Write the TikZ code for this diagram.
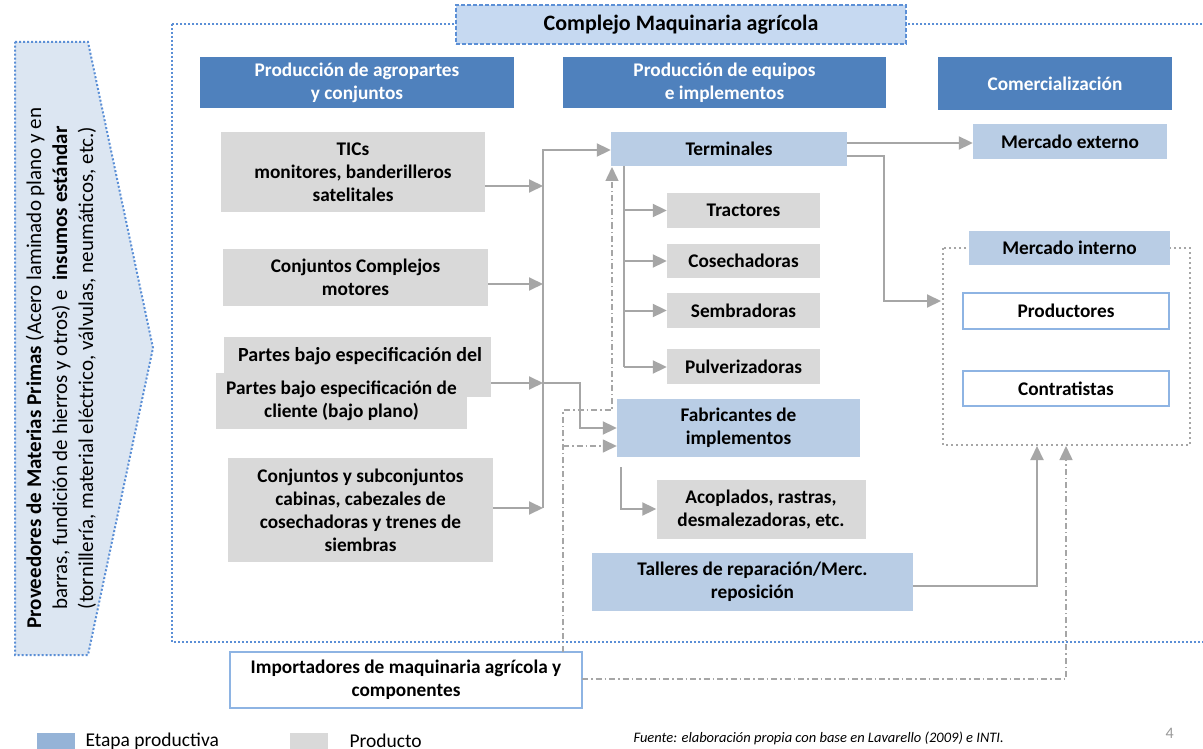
\documentclass[tikz,border=0pt]{standalone}
\usepackage{fontspec}
\setmainfont{Carlito}
\usetikzlibrary{arrows.meta,calc}
\definecolor{hdr}{HTML}{4F81BD}
\definecolor{stage}{HTML}{B9CDE5}
\definecolor{prodc}{HTML}{D9D9D9}
\definecolor{connc}{HTML}{A6A6A6}
\definecolor{dotblue}{HTML}{5B8FD6}
\definecolor{titlefill}{HTML}{C6D9F1}
\definecolor{leftfill}{HTML}{DCE6F2}
\definecolor{wborder}{HTML}{8EB4E3}
\definecolor{legblue}{HTML}{95B3D7}
\begin{document}
\begin{tikzpicture}[x=1pt,y=-1pt,
 base/.style={inner sep=2pt, align=center, font=\fontsize{19.3}{23}\selectfont\bfseries, text=black},
 header/.style={base, fill=hdr, text=white},
 stagebox/.style={base, fill=stage},
 prodbox/.style={base, fill=prodc},
 whitebox/.style={base, fill=white, draw=wborder, line width=1.5pt},
 conn/.style={draw=connc, line width=2pt},
 arr/.style={conn, -{Triangle[length=14pt,width=13pt]}},
 ddot/.style={draw=connc, line width=1.5pt, dash pattern=on 6pt off 3pt on 1.5pt off 3pt},
 darr/.style={ddot, -{Triangle[length=14pt,width=13pt]}},
]
\useasboundingbox (0,0) rectangle (1203,749);
\fill[white] (0,0) rectangle (1203,749);

% outer dotted frame
\draw[dotblue, line width=2pt, dash pattern=on 2pt off 2pt] (172,24) rectangle (1215,642);
\node[base, font=\fontsize{22}{26}\selectfont\bfseries, fill=titlefill, draw=dotblue, line width=1.5pt, dash pattern=on 4pt off 2pt,
  minimum width=450, minimum height=39] (title) at (681,24.5) {Complejo Maquinaria agrícola};

% left supplier arrow
\draw[fill=leftfill, draw=dotblue, line width=2pt, dash pattern=on 2pt off 2pt]
  (15,42) -- (88,42) -- (153,348) -- (88,655) -- (15,655) -- cycle;
\node[rotate=90, align=center, font=\fontsize{21}{26}\selectfont] (prov) at (61,368)
  {\textbf{Proveedores de Materias Primas} (Acero laminado plano y en\\
   barras, fundición de hierros y otros) e \textbf{ insumos estándar}\\
   (tornillería, material eléctrico, válvulas, neumáticos, etc.)};

% headers
\node[header, minimum width=314, minimum height=51] (h1) at (357,82.5) {Producción de agropartes\\y conjuntos};
\node[header, minimum width=323, minimum height=51] (h2) at (724.5,82.5) {Producción de equipos\\e implementos};
\node[header, minimum width=234, minimum height=53] (h3) at (1055,83.5) {Comercialización};

% products column 1
\node[prodbox, minimum width=264, minimum height=80] (tics) at (353,172) {TICs\\monitores, banderilleros\\satelitales};
\node[prodbox, minimum width=265, minimum height=57] (ccomp) at (355.5,277.5) {Conjuntos Complejos\\motores};
\begin{scope}
\clip (224,337) rectangle (491,397);
\node[prodbox, minimum width=267, minimum height=60] (partesb) at (357.5,367) {};
\node[base, font=\fontsize{20}{23}\selectfont\bfseries, anchor=west] (partesbt) at (236,356) {Partes bajo especificación del};
\end{scope}
\node[prodbox, minimum width=251, minimum height=56] (partes) at (341.5,401) {Partes bajo especificación de\\cliente (bajo plano)};
\node[prodbox, minimum width=265, minimum height=104] (csub) at (360.5,510) {Conjuntos y subconjuntos\\cabinas, cabezales de\\cosechadoras y trenes de\\siembras};

% column 2
\node[stagebox, minimum width=236, minimum height=34] (term) at (729,149) {Terminales};
\node[prodbox, minimum width=153, minimum height=35] (tract) at (743.5,210.5) {Tractores};
\node[prodbox, minimum width=153, minimum height=34] (cose) at (743.5,261) {Cosechadoras};
\node[prodbox, minimum width=153, minimum height=35] (siem) at (743.5,310.5) {Sembradoras};
\node[prodbox, minimum width=153, minimum height=35] (pulv) at (743.5,366.5) {Pulverizadoras};
\node[stagebox, minimum width=243, minimum height=58] (fab) at (738.5,428) {Fabricantes de\\implementos};
\node[prodbox, minimum width=209, minimum height=59] (acop) at (761,509.5) {Acoplados, rastras,\\desmalezadoras, etc.};
\node[stagebox, minimum width=321, minimum height=58] (tall) at (752.5,582) {Talleres de reparación/Merc.\\reposición};

% column 3
\node[stagebox, minimum width=194, minimum height=35] (mext) at (1070,141.5) {Mercado externo};
\draw[connc, line width=2pt, dash pattern=on 2pt off 3pt] (943,248) rectangle (1190,445);
\coordinate (mibox) at (943,301);
\node[stagebox, minimum width=201, minimum height=34] (mint) at (1069.5,248) {Mercado interno};
\node[whitebox, minimum width=206, minimum height=36] (prodr) at (1066,311) {Productores};
\node[whitebox, minimum width=206, minimum height=35] (contr) at (1066,388.5) {Contratistas};

% importers
\node[whitebox, minimum width=352, minimum height=56] (imp) at (406,680) {Importadores de maquinaria agrícola y\\componentes};

% connectors column 1 -> bus
\coordinate (bA) at (543,186);
\coordinate (bB) at (543,284);
\coordinate (bC) at (543,383);
\coordinate (bD) at (543,508);
\coordinate (bTop) at (543,150);
\draw[arr] (tics.east |- bA) -- (bA);
\draw[arr] (ccomp.east |- bB) -- (bB);
\draw[arr] (491,383) -- (bC);
\draw[arr] (csub.east |- bD) -- (bD);
\draw[arr] (bD) -- (bTop) -- (term.west |- bTop);
\coordinate (pk1) at (580,383);
\coordinate (pk2) at (580,428);
\draw[arr] (bC) -- (pk1) -- (pk2) -- (fab.west |- pk2);

% terminales branch
\coordinate (tb0) at (624,166);
\coordinate (tb4) at (624,367);
\draw[conn] (tb0) -- (tb4);
\draw[arr] (tb0 |- tract) -- (tract.west);
\draw[arr] (tb0 |- cose) -- (cose.west);
\draw[arr] (tb0 |- siem) -- (siem.west);
\draw[arr] (tb4) -- (pulv.west |- tb4);

% terminales -> markets
\coordinate (te1) at (847,143);
\coordinate (te2) at (847,156);
\coordinate (te3) at (884,156);
\coordinate (te4) at (884,301);
\draw[arr] (te1) -- (mext.west |- te1);
\draw[arr] (te2) -- (te3) -- (te4) -- ([xshift=-2pt]mibox);

% fabricantes -> acoplados
\coordinate (fa1) at (621,467);
\coordinate (fa2) at (621,509);
\draw[arr] (fa1) -- (fa2) -- (acop.west |- fa2);

% talleres -> mercado interno
\coordinate (ta1) at (1037,586);
\coordinate (ta2) at (1037,446);
\draw[arr] (tall.east |- ta1) -- (ta1) -- (ta2);

% importers dash-dot
\coordinate (im1) at (582,679);
\coordinate (im2) at (1066,679);
\coordinate (im3) at (1066,446);
\draw[darr] (im1) -- (im2) -- (im3);
\coordinate (iu0) at (563,652);
\coordinate (iu1) at (563,410);
\coordinate (iu2) at (612,410);
\coordinate (iu3) at (612,167);
\coordinate (ib1) at (563,446);
\draw[darr] (iu0) -- (iu1) -- (iu2) -- (iu3);
\draw[darr] (ib1) -- (fab.west |- ib1);

% legend
\node[fill=legblue, minimum width=38, minimum height=18, inner sep=0, anchor=north west] (lg1) at (37,733) {};
\node[font=\fontsize{19.5}{22}\selectfont, anchor=west] (lg1t) at (82,741) {Etapa productiva};
\node[fill=prodc, minimum width=38, minimum height=18, inner sep=0, anchor=north west] (lg2) at (290,733) {};
\node[font=\fontsize{19.5}{22}\selectfont, anchor=west] (lg2t) at (346,741) {Producto};
\node[font=\fontsize{14.5}{16}\selectfont\itshape, anchor=west] (src) at (630,738) {Fuente: elaboración propia con base en Lavarello (2009) e INTI.};
\node[font=\fontsize{16}{18}\selectfont, text=gray!80, anchor=west] (pg) at (1162,733) {4};
\end{tikzpicture}
\end{document}
